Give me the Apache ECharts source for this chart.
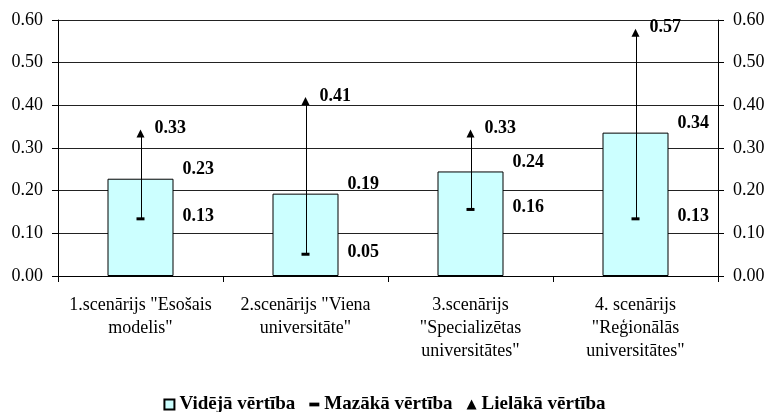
<!DOCTYPE html>
<html>
<head>
<meta charset="utf-8">
<script src="https://cdn.jsdelivr.net/npm/echarts@6/dist/echarts.min.js"></script>
<style>
    html, body { margin: 0; padding: 0; background: #fff; }
    #chart { width: 769px; height: 412px; }
</style>
</head>
<body>
<div id="chart"></div>
<script>
// scenāriji
var categories = [
    '1.scenārijs "Esošais\nmodelis"',
    '2.scenārijs "Viena\nuniversitāte"',
    '3.scenārijs\n"Specializētas\nuniversitātes"',
    '4. scenārijs\n"Reģionālās\nuniversitātes"'
];
var avgValues = [0.228, 0.193, 0.245, 0.336];
var minValues = [0.134, 0.051, 0.156, 0.134];
var maxValues = [0.334, 0.41, 0.334, 0.57];
var yTicks = [0, 0.1, 0.2, 0.3, 0.4, 0.5, 0.6];

var serifFont = 'Liberation Serif';

var rangeData = [];
for (var i = 0; i < categories.length; i++) {
    rangeData.push([i, minValues[i], maxValues[i]]);
}

function fmt(v) {
    return v.toFixed(2);
}

var valueLabel = {
    show: true,
    align: 'left',
    verticalAlign: 'middle',
    formatter: function (p) { return fmt(p.value); },
    fontFamily: serifFont,
    fontWeight: 'bold',
    fontSize: 18,
    color: '#000',
    opacity: 1
};

var yAxisBase = {
    type: 'value',
    min: yTicks[0],
    max: yTicks[yTicks.length - 1],
    interval: 0.1,
    axisLine: {show: true, lineStyle: {color: '#000', width: 1}},
    axisTick: {show: true, length: 6, lineStyle: {color: '#000'}},
    axisLabel: {
        margin: 15,
        color: '#000',
        fontFamily: serifFont,
        fontSize: 18,
        formatter: function (v) { return v.toFixed(2); }
    }
};

var myChart = echarts.init(document.getElementById('chart'), null, {renderer: 'canvas'});
var option = {
    animation: false,
    backgroundColor: '#fff',
    grid: {left: 58, right: 51, top: 20, bottom: 136},
    legend: {
        top: 390,
        left: 'center',
        itemWidth: 10,
        itemHeight: 10,
        itemGap: 14,
        textStyle: {fontFamily: serifFont, fontWeight: 'bold', fontSize: 19, color: '#000'},
        data: [
            {name: 'Vidējā vērtība', icon: 'rect'},
            {name: 'Mazākā vērtība', icon: 'path://M0,0 H8 V3 H0 Z'},
            {name: 'Lielākā vērtība', icon: 'triangle'}
        ]
    },
    xAxis: {
        type: 'category',
        data: categories,
        axisLine: {lineStyle: {color: '#000', width: 1}},
        axisTick: {show: true, length: 6, lineStyle: {color: '#000'}},
        axisLabel: {
            interval: 0,
            margin: 18,
            color: '#000',
            fontFamily: serifFont,
            fontSize: 18,
            lineHeight: 23
        }
    },
    yAxis: [
        Object.assign({}, yAxisBase, {
            position: 'left',
            splitLine: {show: true, lineStyle: {color: '#222', width: 1}}
        }),
        Object.assign({}, yAxisBase, {
            position: 'right',
            splitLine: {show: false}
        })
    ],
    series: [
        {
            name: 'Vidējā vērtība',
            type: 'bar',
            barWidth: '40%',
            data: avgValues,
            itemStyle: {color: '#CCFFFF', borderColor: '#000', borderWidth: 1},
            label: Object.assign({}, valueLabel, {
                position: ['50%', 0],
                offset: [42, -9]
            })
        },
        {
            type: 'custom',
            data: rangeData,
            z: 3,
            silent: true,
            renderItem: function (params, api) {
                var lo = api.coord([api.value(0), api.value(1)]);
                var hi = api.coord([api.value(0), api.value(2)]);
                var x = Math.round(lo[0]) + 0.5;
                return {
                    type: 'line',
                    shape: {x1: x, y1: lo[1], x2: x, y2: hi[1]},
                    style: {stroke: '#000', lineWidth: 1}
                };
            }
        },
        {
            name: 'Mazākā vērtība',
            type: 'scatter',
            data: minValues,
            symbol: 'rect',
            symbolSize: [8, 3],
            z: 4,
            itemStyle: {color: '#000', opacity: 1},
            label: Object.assign({}, valueLabel, {
                position: 'inside',
                offset: [42, -2]
            })
        },
        {
            name: 'Lielākā vērtība',
            type: 'scatter',
            data: maxValues,
            symbol: 'triangle',
            symbolSize: [8, 8],
            z: 4,
            itemStyle: {color: '#000', opacity: 1},
            label: Object.assign({}, valueLabel, {
                position: 'inside',
                offset: [14, -5]
            })
        }
    ]
};
myChart.setOption(option, false);
</script>
</body>
</html>
